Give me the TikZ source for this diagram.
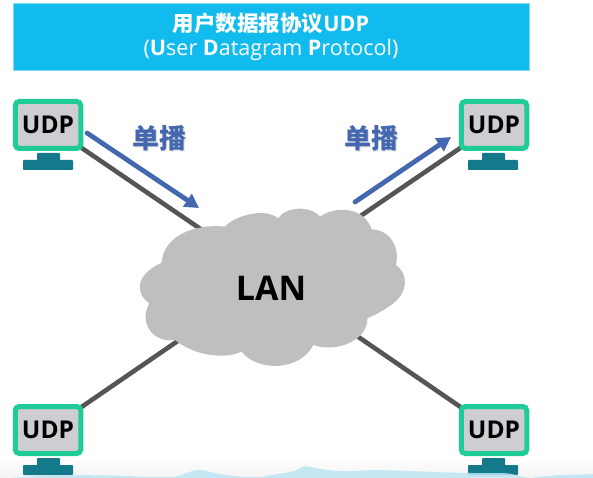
\documentclass[tikz,border=0pt]{standalone}
\usepackage{fontspec}
\setmainfont{Open Sans}
\newfontfamily\cjk{Noto Sans CJK SC}
\usetikzlibrary{arrows.meta,backgrounds}
\definecolor{barblue}{HTML}{12BBEE}
\definecolor{baredge}{HTML}{7FDDF6}
\definecolor{mongreen}{HTML}{1FCB96}
\definecolor{mongrey}{HTML}{CDCDD2}
\definecolor{standteal}{HTML}{14798A}
\definecolor{linkgrey}{HTML}{555555}
\definecolor{arrowblue}{HTML}{4468B0}
\definecolor{cloudgrey}{HTML}{BFBFBF}
\definecolor{hillblue}{HTML}{BDE5F3}
\definecolor{fadegrey}{HTML}{F4F4F4}
\tikzset{
  monitor/.style={draw=mongreen,fill=mongrey,line width=5pt,rounded corners=4pt,
    minimum width=65.5pt,minimum height=47pt,inner sep=0pt,
    font=\fontsize{24.5}{24.5}\selectfont\bfseries,text=black},
  standpart/.style={fill=standteal,rounded corners=0.8pt},
  link/.style={draw=linkgrey,line width=4.6pt},
  sendarrow/.style={draw=arrowblue,line width=4.8pt,line cap=round,
    -{Triangle[length=14pt,width=15pt,fill=arrowblue]}},
  castlabel/.style={font=\fontsize{27}{27}\selectfont\bfseries\cjk,text=arrowblue},
  castshadow/.style={font=\fontsize{27}{27}\selectfont\bfseries\cjk,text=black!45,opacity=.35},
  titletext/.style={text=white,font=\fontsize{21.5}{24}\selectfont,inner sep=0pt},
}
\begin{document}
\begin{tikzpicture}[x=1pt,y=-1pt]
\useasboundingbox (0,0) rectangle (593,478);
\begin{scope}[on background layer]
  \shade[top color=white,bottom color=fadegrey] (0,455) rectangle (593,478);
\end{scope}
% title bar
\node[fill=barblue,draw=baredge,line width=.8pt,minimum width=516pt,minimum height=67pt,inner sep=0pt] (bar) at (271,36.5) {};
\node[titletext] (titleA) at (271,23) {{\cjk\bfseries 用户数据报协议}\textbf{UDP}};
\node[titletext] (titleB) at (271,50) {(\textbf{U}ser \textbf{D}atagram \textbf{P}rotocol)};
% cloud
\begin{scope}[shift={(130,200)},x=.3333pt,y=-.3333pt]
\fill[cloudgrey] (285,80) .. controls (310,50) and (400,20) .. (445,55)
 .. controls (465,20) and (540,15) .. (570,50)
 .. controls (610,20) and (700,15) .. (725,88)
 .. controls (780,90) and (810,140) .. (798,195)
 .. controls (835,220) and (835,275) .. (790,310)
 .. controls (765,330) and (735,345) .. (712,355)
 .. controls (715,420) and (620,460) .. (550,435)
 .. controls (510,515) and (380,515) .. (335,455)
 .. controls (280,480) and (190,465) .. (135,420)
 .. controls (70,430) and (25,370) .. (58,310)
 .. controls (15,280) and (15,225) .. (95,188)
 .. controls (100,110) and (190,70) .. (285,80) -- cycle;
\end{scope}
\node[font=\fontsize{34}{34}\selectfont\bfseries,inner sep=0pt] (lan) at (271,288) {LAN};
% monitor stands
\fill[standpart] (37,153) rectangle (60,162); \fill[standpart] (23,160) rectangle (73,170);
\fill[standpart] (482,153) rectangle (505,162); \fill[standpart] (468,160) rectangle (518,170);
\fill[standpart] (37,458) rectangle (60,467); \fill[standpart] (23,465) rectangle (73,475);
\fill[standpart] (482,458) rectangle (505,467); \fill[standpart] (468,465) rectangle (518,475);
% monitors
\node[monitor] (tl) at (48,125) {UDP};
\node[monitor] (tr) at (494,125) {UDP};
\node[monitor] (bl) at (48,430) {UDP};
\node[monitor] (br) at (494,430) {UDP};
% links, behind monitors and cloud
\begin{scope}[on background layer]
  \draw[link] (tl.center) -- ([yshift=11pt]lan.center);
  \draw[link] (tr.center) -- ([yshift=11pt]lan.center);
  \draw[link] (bl.center) -- ([yshift=11pt]lan.center);
  \draw[link] (br.center) -- ([yshift=11pt]lan.center);
\end{scope}
% unicast arrows
\coordinate (a1) at (87,133); \coordinate (a2) at (199,208);
\coordinate (b1) at (355,202); \coordinate (b2) at (451,137);
\draw[sendarrow] (a1) -- (a2);
\draw[sendarrow] (b1) -- (b2);
\node[castshadow] at (160.5,139.5) {单播};
\node[castshadow] at (372.5,139.5) {单播};
\node[castlabel] (la) at (159.5,138) {单播};
\node[castlabel] (lb) at (371.5,138) {单播};
% pale hills along the bottom
\fill[hillblue,opacity=.85] (12,478) .. controls (40,475) and (90,474) .. (148,477)
  -- (175,477) .. controls (188,473) and (194,469) .. (202,470)
  .. controls (212,472) and (230,478) .. (262,477)
  .. controls (280,473) and (295,473) .. (302,467)
  .. controls (310,464) and (316,472) .. (355,471)
  .. controls (385,468) and (440,474) .. (500,473)
  .. controls (515,473) and (522,478) .. (532,478)
  .. controls (555,474) and (580,475) .. (593,474) -- (593,478) -- cycle;
\end{tikzpicture}
\end{document}
